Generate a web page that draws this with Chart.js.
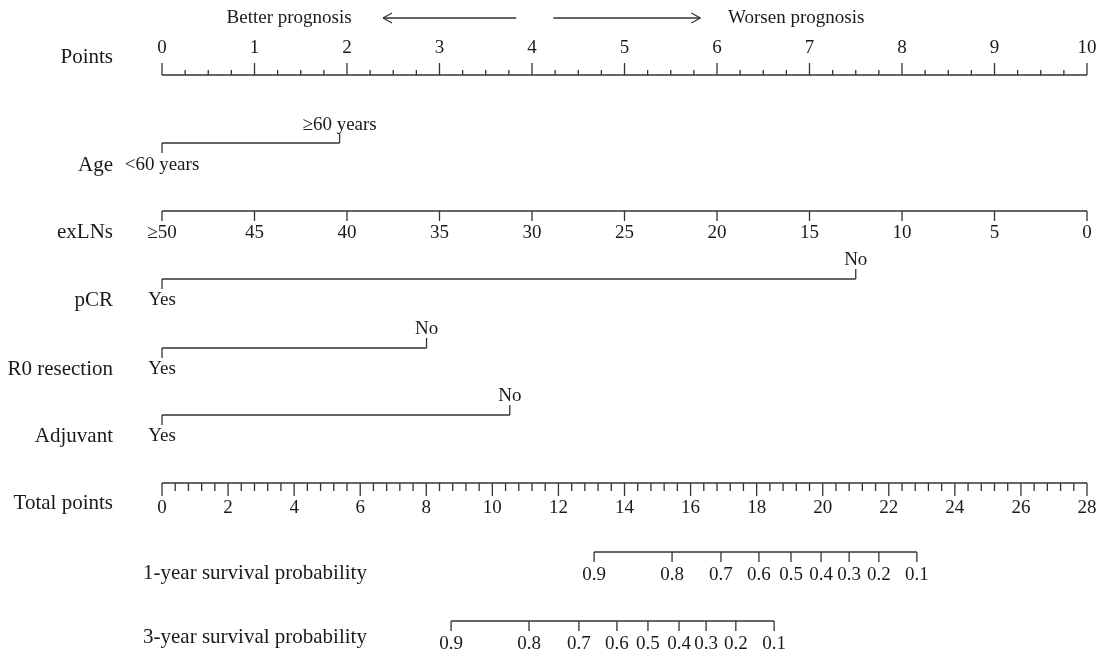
<!DOCTYPE html>
<html>
<head>
<meta charset="utf-8">
<script src="https://cdn.jsdelivr.net/npm/chart.js@4.4.1/dist/chart.umd.min.js"></script>
<style>
  body { margin: 0; background: #fff; }
  .wrap { width: 1102px; height: 654px; position: relative; }
</style>
</head>
<body>
<div class="wrap"><canvas id="nomo"></canvas></div>
<script>
// Points scale (top axis)
const pointTicks = [0, 1, 2, 3, 4, 5, 6, 7, 8, 9, 10];

// Age
const ageLevels = ["<60 years", "\u226560 years"];
const agePoints = [0, 1.92];

// exLNs axis (reversed, 0 points at >=50)
const exlnTicks = [50, 45, 40, 35, 30, 25, 20, 15, 10, 5, 0];
const exlnLabels = ["\u226550", "45", "40", "35", "30", "25", "20", "15", "10", "5", "0"];

// pCR, R0 resection, adjuvant
const pcrLevels = ["Yes", "No"];
const pcrPoints = [0, 7.5];
const r0Levels = ["Yes", "No"];
const r0Points = [0, 2.86];
const adjLevels = ["Yes", "No"];
const adjPoints = [0, 3.76];

// Total points axis
const totalTicks = [0, 2, 4, 6, 8, 10, 12, 14, 16, 18, 20, 22, 24, 26, 28];

// Survival probability scales (position in total points)
const survLabels = ["0.9", "0.8", "0.7", "0.6", "0.5", "0.4", "0.3", "0.2", "0.1"];
const surv1Total = [13.08, 15.44, 16.92, 18.07, 19.04, 19.95, 20.80, 21.70, 22.85];
const surv3Total = [8.75, 11.11, 12.62, 13.77, 14.71, 15.65, 16.47, 17.37, 18.53];

const LINE = "#333";
const TEXT = "#1a1a1a";
const SERIF = "'Liberation Serif', 'DejaVu Serif', serif";

function seg(ctx, x1, y1, x2, y2) {
  ctx.beginPath();
  ctx.moveTo(x1, y1);
  ctx.lineTo(x2, y2);
  ctx.stroke();
}

function txt(ctx, s, x, y, align, size) {
  ctx.font = size + "px " + SERIF;
  ctx.textAlign = align;
  ctx.textBaseline = "middle";
  ctx.fillText(s, x, y);
}

// Draws a categorical variable: line between levels, ticks alternating down/up
function drawFactor(ctx, sx, sy, name, levels, pts, rowY) {
  const y = sy(rowY);
  const xs = pts.map(p => sx.getPixelForValue(p));
  seg(ctx, Math.min(...xs), y, Math.max(...xs), y);
  levels.forEach((lab, i) => {
    const up = i % 2 === 1;
    seg(ctx, xs[i], y, xs[i], up ? y - 10 : y + 10);
    txt(ctx, lab, xs[i], up ? y - 19 : y + 21, "center", 19);
  });
  txt(ctx, name, 113, y + 21, "right", 21);
}

const nomogramPlugin = {
  id: "nomogram",
  afterDraw(chart) {
    const ctx = chart.ctx;
    const sx = chart.scales.x;
    const st = chart.scales.xTotal;
    const sl = chart.scales.xLN;
    const sy = v => chart.scales.y.getPixelForValue(v);
    ctx.save();
    ctx.strokeStyle = LINE;
    ctx.fillStyle = TEXT;
    ctx.lineWidth = 1.3;

    // direction arrows
    const ay = sy(18);
    const aL1 = sx.getPixelForValue(2.39), aL2 = sx.getPixelForValue(3.83);
    seg(ctx, aL1, ay, aL2, ay);
    seg(ctx, aL1, ay, aL1 + 9, ay - 5);
    seg(ctx, aL1, ay, aL1 + 9, ay + 5);
    const aR1 = sx.getPixelForValue(4.23), aR2 = sx.getPixelForValue(5.82);
    seg(ctx, aR1, ay, aR2, ay);
    seg(ctx, aR2, ay, aR2 - 9, ay - 5);
    seg(ctx, aR2, ay, aR2 - 9, ay + 5);
    txt(ctx, "Better prognosis", sx.getPixelForValue(2.05), ay, "right", 19);
    txt(ctx, "Worsen prognosis", sx.getPixelForValue(6.12), ay, "left", 19);

    // Points axis
    const py = sy(75);
    seg(ctx, sx.getPixelForValue(0), py, sx.getPixelForValue(10), py);
    for (let v = 0; v <= 10.001; v += 0.25) {
      const x = sx.getPixelForValue(v);
      const major = Math.abs(v - Math.round(v)) < 1e-6;
      seg(ctx, x, py, x, py - (major ? 12 : 5));
    }
    pointTicks.forEach(v => txt(ctx, String(v), sx.getPixelForValue(v), py - 27, "center", 19));
    txt(ctx, "Points", 113, sy(57), "right", 21);

    // Age (labels below/above)
    {
      const y = sy(143);
      const xs = agePoints.map(p => sx.getPixelForValue(p));
      seg(ctx, xs[0], y, xs[1], y);
      seg(ctx, xs[0], y, xs[0], y + 10);
      seg(ctx, xs[1], y, xs[1], y - 9);
      txt(ctx, ageLevels[0], xs[0], y + 22, "center", 19);
      txt(ctx, ageLevels[1], xs[1], y - 18, "center", 19);
      txt(ctx, "Age", 113, y + 22, "right", 21);
    }

    // exLNs
    {
      const y = sy(211);
      seg(ctx, sl.getPixelForValue(50), y, sl.getPixelForValue(0), y);
      exlnTicks.forEach((v, i) => {
        const x = sl.getPixelForValue(v);
        seg(ctx, x, y, x, y + 10);
        txt(ctx, exlnLabels[i], x, y + 22, "center", 19);
      });
      txt(ctx, "exLNs", 113, y + 21, "right", 21);
    }

    drawFactor(ctx, sx, sy, "pCR", pcrLevels, pcrPoints, 279);
    drawFactor(ctx, sx, sy, "R0 resection", r0Levels, r0Points, 348);
    drawFactor(ctx, sx, sy, "Adjuvant", adjLevels, adjPoints, 415);

    // Total points
    {
      const y = sy(483);
      seg(ctx, st.getPixelForValue(0), y, st.getPixelForValue(28), y);
      for (let v = 0; v <= 28.001; v += 0.4) {
        const x = st.getPixelForValue(v);
        const major = Math.abs(v / 2 - Math.round(v / 2)) < 1e-6;
        seg(ctx, x, y, x, y + (major ? 13 : 8));
      }
      totalTicks.forEach(v => txt(ctx, String(v), st.getPixelForValue(v), y + 25, "center", 19));
      txt(ctx, "Total points", 113, sy(503), "right", 21);
    }

    // Survival probability axes
    [[surv1Total, 552, "1-year survival probability", 573],
     [surv3Total, 621, "3-year survival probability", 637]].forEach(([vals, rowY, name, labY]) => {
      const y = sy(rowY);
      seg(ctx, st.getPixelForValue(vals[0]), y, st.getPixelForValue(vals[vals.length - 1]), y);
      vals.forEach((v, i) => {
        const x = st.getPixelForValue(v);
        seg(ctx, x, y, x, y + 10);
        txt(ctx, survLabels[i], x, y + 23, "center", 19);
      });
      txt(ctx, name, 143, sy(labY), "left", 21);
    });

    ctx.restore();
  }
};

new Chart(document.getElementById("nomo"), {
  type: "scatter",
  data: { datasets: [] },
  options: {
    responsive: true,
    maintainAspectRatio: false,
    animation: false,
    layout: { padding: { left: 162, right: 15, top: 0, bottom: 0 } },
    plugins: { legend: { display: false }, tooltip: { enabled: false } },
    scales: {
      x: { type: "linear", min: 0, max: 10, display: false },
      xTotal: { type: "linear", axis: "x", min: 0, max: 28, display: false },
      xLN: { type: "linear", axis: "x", min: 0, max: 50, reverse: true, display: false },
      y: { type: "linear", min: 0, max: 654, reverse: true, display: false }
    }
  },
  plugins: [nomogramPlugin]
});
</script>
</body>
</html>
